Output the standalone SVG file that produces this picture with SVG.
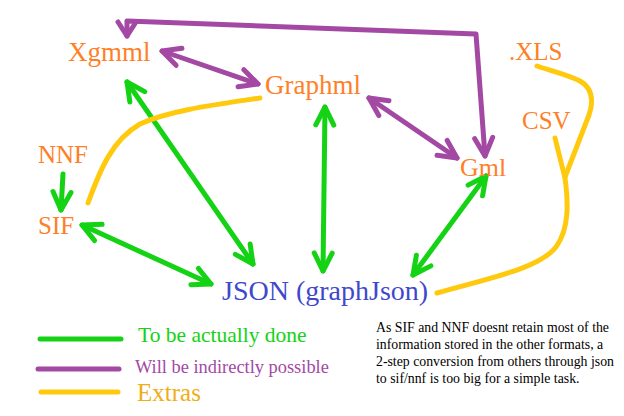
<svg xmlns="http://www.w3.org/2000/svg" width="624" height="416" viewBox="0 0 624 416">
<style>
text{font-family:"Liberation Serif","Times New Roman","DejaVu Serif",serif}
.n{fill:#FF7F27}
.ln{fill:none;stroke-width:5;stroke-linecap:round;stroke-linejoin:round}
.g{stroke:#14D214}.p{stroke:#A349A4}.y{stroke:#FFC90E}
</style>
<defs>
<marker id="mg" markerUnits="userSpaceOnUse" viewBox="-24 -14 28 28" refX="0" refY="0" markerWidth="28" markerHeight="28" orient="auto-start-reverse" overflow="visible">
<path d="M-18,-9 L0,0 L-18,9" fill="none" stroke="#14D214" stroke-width="5" stroke-linecap="round" stroke-linejoin="round"/>
</marker>
<marker id="mp" markerUnits="userSpaceOnUse" viewBox="-24 -14 28 28" refX="0" refY="0" markerWidth="28" markerHeight="28" orient="auto-start-reverse" overflow="visible">
<path d="M-18,-9 L0,0 L-18,9" fill="none" stroke="#A349A4" stroke-width="5" stroke-linecap="round" stroke-linejoin="round"/>
</marker>
<marker id="mp2" markerUnits="userSpaceOnUse" viewBox="-24 -14 28 28" refX="0" refY="0" markerWidth="28" markerHeight="28" orient="auto-start-reverse" overflow="visible">
<path d="M-14,-9 L0,0 L-14,9" fill="none" stroke="#A349A4" stroke-width="5" stroke-linecap="round" stroke-linejoin="round"/>
</marker>
</defs>
<rect width="624" height="416" fill="#fff"/>
<g id="connectors">
<path class="ln p" d="M127,36 L127,21 L476,34 L485,156" marker-start="url(#mp2)" marker-end="url(#mp)"/>
<path class="ln p" d="M162,51 L258,84" marker-start="url(#mp)" marker-end="url(#mp)"/>
<path class="ln p" d="M369,98 L457,158" marker-start="url(#mp)" marker-end="url(#mp)"/>
<path class="ln g" d="M127,82 L253,264" marker-start="url(#mg)" marker-end="url(#mg)"/>
<path class="ln g" d="M82,225 L211,284" marker-start="url(#mg)" marker-end="url(#mg)"/>
<path class="ln g" d="M63,174 L61,210" marker-end="url(#mg)"/>
<path class="ln g" d="M325,107 L323,271" marker-start="url(#mg)" marker-end="url(#mg)"/>
<path class="ln g" d="M486,176 L413,275" marker-start="url(#mg)" marker-end="url(#mg)"/>
<path class="ln y" d="M88,203 C100,170 112,140 140,124 C170,110 220,104 260,98"/>
<path class="ln y" d="M437,293 C490,278 540,268 556,247 C570,228 568,200 565,178 L555,138"/>
<path class="ln y" d="M565,177 L589,115 C594,100 592,88 580,81 C566,74 548,70 537,66"/>
</g>
<g id="xgmml"><text class="n" x="68" y="61" font-size="27">Xgmml</text></g>
<g id="graphml"><text class="n" x="265" y="94" font-size="27">Graphml</text></g>
<g id="gml"><text class="n" x="460" y="176" font-size="26">Gml</text></g>
<g id="xls"><text class="n" x="509" y="60" font-size="25">.XLS</text></g>
<g id="csv"><text class="n" x="522" y="129" font-size="25">CSV</text></g>
<g id="nnf"><text class="n" x="38" y="163" font-size="25">NNF</text></g>
<g id="sif"><text class="n" x="38" y="234" font-size="25">SIF</text></g>
<g id="json"><text x="222" y="300" font-size="28" fill="#3F48CC">JSON (graphJson)</text></g>
<g id="legend">
<line class="ln g" x1="40" y1="339" x2="121" y2="339"/>
<line class="ln p" x1="38" y1="369" x2="119" y2="369"/>
<line class="ln y" x1="41" y1="392" x2="118" y2="392"/>
<text x="138" y="342" font-size="21.5" fill="#14D214">To be actually done</text>
<text x="135" y="373" font-size="18.4" fill="#A349A4">Will be indirectly possible</text>
<text x="137" y="401" font-size="25" fill="#EFAE14">Extras</text>
</g>
<g id="note">
<text font-size="13.8" fill="#000">
<tspan x="376" y="332">As SIF and NNF doesnt retain most of the</tspan>
<tspan x="376" y="349">information stored in the other formats, a</tspan>
<tspan x="376" y="366">2-step conversion from others through json</tspan>
<tspan x="376" y="383">to sif/nnf is too big for a simple task.</tspan>
</text>
</g>
</svg>
